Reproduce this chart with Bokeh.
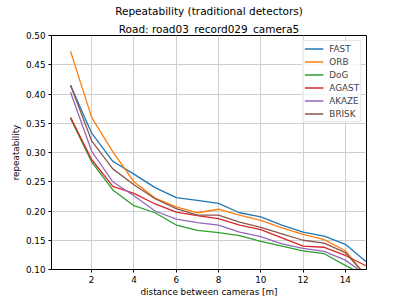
from bokeh.plotting import figure
from bokeh.models import Range1d, FixedTicker, NumeralTickFormatter, Title, Legend, LegendItem
from bokeh.embed import file_html
from bokeh.resources import INLINE

distance = [1, 2, 3, 4, 5, 6, 7, 8, 9, 10, 11, 12, 13, 14, 15]
fast = [0.415, 0.333, 0.285, 0.263, 0.240, 0.223, 0.218, 0.213, 0.197, 0.190, 0.176, 0.164, 0.157, 0.143, 0.113]
orb = [0.473, 0.360, 0.301, 0.250, 0.222, 0.207, 0.197, 0.203, 0.193, 0.184, 0.171, 0.160, 0.151, 0.132, 0.088]
dog = [0.358, 0.284, 0.236, 0.209, 0.197, 0.176, 0.167, 0.163, 0.158, 0.148, 0.140, 0.132, 0.127, 0.107, 0.088]
agast = [0.360, 0.288, 0.242, 0.230, 0.212, 0.198, 0.192, 0.187, 0.176, 0.168, 0.154, 0.140, 0.138, 0.124, 0.106]
akaze = [0.403, 0.302, 0.250, 0.226, 0.200, 0.186, 0.180, 0.176, 0.164, 0.156, 0.144, 0.136, 0.131, 0.116, 0.090]
brisk = [0.415, 0.320, 0.272, 0.245, 0.221, 0.204, 0.193, 0.193, 0.181, 0.172, 0.161, 0.150, 0.145, 0.129, 0.088]

names = ["FAST", "ORB", "DoG", "AGAST", "AKAZE", "BRISK"]
series = [fast, orb, dog, agast, akaze, brisk]
colors = ["#1f77b4", "#ff7f0e", "#2ca02c", "#d62728", "#9467bd", "#8c564b"]
x_ticks = [2, 4, 6, 8, 10, 12, 14]
y_ticks = [0.10, 0.15, 0.20, 0.25, 0.30, 0.35, 0.40, 0.45, 0.50]

FONT = "DejaVu Sans"

p = figure(width=407, height=304, output_backend="svg", toolbar_location=None,
           title=None,
           x_range=Range1d(0.1, 15), y_range=Range1d(0.1, 0.5),
           min_border_left=51, min_border_right=41, min_border_top=35, min_border_bottom=35)

p.add_layout(Title(text="Road: road03_record029_camera5", align="center",
                   text_font=FONT, text_font_size="10.5px", text_font_style="normal",
                   text_color="black", standoff=2), "above")
p.add_layout(Title(text="Repeatability (traditional detectors)", align="center",
                   text_font=FONT, text_font_size="10.5px", text_font_style="normal",
                   text_color="black", standoff=5, offset=-5), "above")

items = []
for name, ys, c in zip(names, series, colors):
    r = p.line(distance, ys, line_color=c, line_width=1.3)
    items.append(LegendItem(label=name, renderers=[r]))

legend = Legend(items=items, location="top_right")
legend.label_text_font = FONT
legend.label_text_font_size = "8.8px"
legend.glyph_width = 19
legend.glyph_height = 13
legend.label_height = 13
legend.spacing = 0
legend.padding = 1
legend.margin = 5
legend.label_standoff = 6
legend.border_line_color = "#cccccc"
legend.background_fill_alpha = 0.8
p.add_layout(legend)

for ax in (p.xaxis, p.yaxis):
    ax.major_tick_in = 0
    ax.major_tick_out = 3
    ax.minor_tick_in = 0
    ax.minor_tick_out = 0
    ax.axis_line_color = "black"
    ax.major_tick_line_color = "black"
    ax.major_label_text_font = FONT
    ax.major_label_text_font_size = "8.8px"
    ax.major_label_text_color = "black"
    ax.major_label_standoff = 3
    ax.axis_label_text_font = FONT
    ax.axis_label_text_font_size = "8.8px"
    ax.axis_label_text_font_style = "normal"
    ax.axis_label_text_color = "black"

p.xaxis.axis_label_standoff = 1
p.yaxis.axis_label_standoff = 2

p.xaxis.ticker = FixedTicker(ticks=x_ticks)
p.yaxis.ticker = FixedTicker(ticks=y_ticks)
p.yaxis.formatter = NumeralTickFormatter(format="0.00")
p.xaxis.axis_label = "distance between cameras [m]"
p.yaxis.axis_label = "repeatability"

p.xgrid.ticker = FixedTicker(ticks=x_ticks)
p.ygrid.ticker = FixedTicker(ticks=y_ticks)
p.grid.grid_line_color = "#cfcfcf"
p.grid.grid_line_width = 1

p.outline_line_color = "black"
p.outline_line_width = 1
p.outline_line_alpha = 1

open("out.html", "w").write(file_html(p, INLINE))
